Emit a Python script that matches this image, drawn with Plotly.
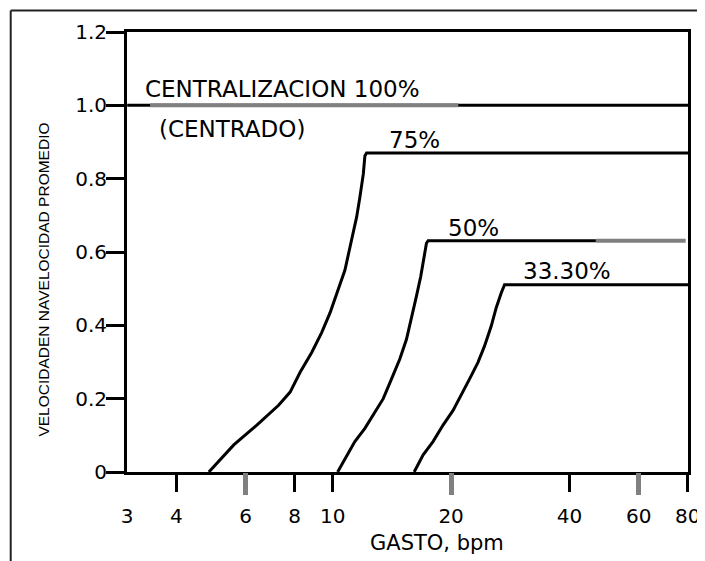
import math
import plotly.graph_objects as go

# ---------------- data ----------------
# CENTRALIZACION 100% (centrado)
x_100 = [3.0, 82.0]
y_100 = [1.0, 1.0]
x_100_gray = [3.43, 20.86]

# 75 %
x_75 = [4.84, 5.60, 6.41, 7.28, 7.79, 8.26, 8.84, 9.37, 9.84, 10.33, 10.74,
        11.16, 11.50, 11.72, 11.96, 12.07, 12.19, 82.0]
y_75 = [0.0, 0.074, 0.128, 0.182, 0.218, 0.272, 0.326, 0.380, 0.434, 0.497,
        0.551, 0.632, 0.695, 0.749, 0.813, 0.862, 0.870, 0.870]

# 50 %
x_50 = [10.29, 10.84, 11.38, 12.07, 12.79, 13.44, 14.11, 14.81, 15.40, 15.85,
        16.32, 16.74, 17.08, 17.31, 17.48, 46.7]
y_50 = [0.0, 0.042, 0.083, 0.119, 0.164, 0.200, 0.254, 0.308, 0.362, 0.416,
        0.479, 0.533, 0.587, 0.624, 0.631, 0.631]
x_50_gray = [46.7, 79.0]

# 33.30 %
x_33 = [16.11, 16.98, 17.99, 19.08, 20.23, 21.23, 22.29, 23.41, 24.33, 25.30,
        26.05, 26.82, 27.35, 27.62, 82.0]
y_33 = [0.0, 0.047, 0.083, 0.128, 0.168, 0.209, 0.254, 0.299, 0.344, 0.398,
        0.448, 0.488, 0.511, 0.511, 0.511]

x_ticks = [3, 4, 6, 8, 10, 20, 40, 60, 80]
x_ticks_black = [4, 8, 10, 40, 80]
x_ticks_gray = [6, 20, 60]
y_ticks = [0, 0.2, 0.4, 0.6, 0.8, 1.0, 1.2]
y_ticktext = ["0", "0.2", "0.4", "0.6", "0.8", "1.0", "1.2"]

# ---------------- layout geometry ----------------
# the page body adds an 8 px offset to the figure
W, H = 697, 553
L, R, T, B = 118.5, 16.5, 23.5, 88.5
PW, PH = W - L - R, H - T - B
OFF = 8


def px(xp):  # page x pixel -> paper x
    return (xp - OFF - L) / PW


def py(yp):  # page y pixel -> paper y
    return (H - B - (yp - OFF)) / PH


BLACK = "#000000"
GRAY = "#808080"
FONT = "DejaVu Sans, Liberation Sans, Arial, sans-serif"

fig = go.Figure()

fig.add_trace(go.Scatter(x=x_100, y=y_100, mode="lines",
                         line=dict(color=BLACK, width=3), hoverinfo="skip"))
fig.add_trace(go.Scatter(x=x_100_gray, y=[y_100[0]] * 2, mode="lines",
                         line=dict(color=GRAY, width=4), hoverinfo="skip"))
fig.add_trace(go.Scatter(x=x_75, y=y_75, mode="lines",
                         line=dict(color=BLACK, width=3), hoverinfo="skip"))
fig.add_trace(go.Scatter(x=x_50, y=y_50, mode="lines", xaxis="x3",
                         line=dict(color=BLACK, width=3), hoverinfo="skip"))
fig.add_trace(go.Scatter(x=x_50_gray, y=[y_50[-1]] * 2, mode="lines", xaxis="x3",
                         line=dict(color=GRAY, width=4), hoverinfo="skip"))
fig.add_trace(go.Scatter(x=x_33, y=y_33, mode="lines", xaxis="x2",
                         line=dict(color=BLACK, width=3), hoverinfo="skip"))

xr = [math.log10(3) - 0.0005, math.log10(80) + 0.0005]

fig.update_layout(
    width=W, height=H,
    margin=dict(l=L, r=R, t=T, b=B, pad=0, autoexpand=False),
    paper_bgcolor="white", plot_bgcolor="white",
    showlegend=False,
    font=dict(family=FONT, color=BLACK),
    xaxis=dict(type="log", range=xr, tickmode="array", tickvals=x_ticks,
               ticktext=[str(v) for v in x_ticks], automargin=False,
               ticks="outside", ticklen=24, tickcolor="rgba(0,0,0,0)",
               ticklabeloverflow="allow",
               tickfont=dict(family=FONT, size=20, color=BLACK),
               showline=True, linecolor=BLACK, linewidth=3, mirror=True,
               showgrid=False, zeroline=False),
    xaxis2=dict(type="log", range=xr, overlaying="x", anchor="y", side="bottom",
                tickmode="array", tickvals=x_ticks_black, ticks="outside",
                ticklen=19, tickwidth=3, tickcolor=BLACK, showticklabels=False,
                automargin=False,
                showline=False, showgrid=False, zeroline=False),
    xaxis3=dict(type="log", range=xr, overlaying="x", anchor="y", side="bottom",
                tickmode="array", tickvals=x_ticks_gray, ticks="outside",
                ticklen=22, tickwidth=5, tickcolor=GRAY, showticklabels=False,
                automargin=False,
                showline=False, showgrid=False, zeroline=False),
    yaxis=dict(range=[0, 1.2], tickmode="array", tickvals=y_ticks,
               ticktext=y_ticktext, ticks="outside", ticklen=18, tickwidth=3,
               tickcolor=BLACK, ticklabelstandoff=-5, automargin=False,
               tickfont=dict(family=FONT, size=20, color=BLACK),
               showline=True, linecolor=BLACK, linewidth=3, mirror=True,
               showgrid=False, zeroline=False),
)

ann_font = dict(family=FONT, size=23, color=BLACK)
fig.add_annotation(x=math.log10(3.30), y=1.045, xref="x", yref="y",
                   text="CENTRALIZACION 100%", showarrow=False,
                   xanchor="left", yanchor="middle", font=ann_font)
fig.add_annotation(x=math.log10(3.58), y=0.936, xref="x", yref="y",
                   text="(CENTRADO)", showarrow=False,
                   xanchor="left", yanchor="middle", font=ann_font)
fig.add_annotation(x=math.log10(13.7), y=0.905, xref="x", yref="y",
                   text="75%", showarrow=False,
                   xanchor="left", yanchor="middle", font=ann_font)
fig.add_annotation(x=math.log10(19.4), y=0.666, xref="x", yref="y",
                   text="50%", showarrow=False,
                   xanchor="left", yanchor="middle", font=ann_font)
fig.add_annotation(x=math.log10(30.2), y=0.547, xref="x", yref="y",
                   text="33.30%", showarrow=False,
                   xanchor="left", yanchor="middle", font=ann_font)
# axis titles
fig.add_annotation(x=px(437), y=py(544), xref="paper", yref="paper",
                   text="GASTO, bpm", showarrow=False,
                   xanchor="center", yanchor="middle",
                   font=dict(family=FONT, size=21, color=BLACK))
fig.add_annotation(x=px(43), y=py(280), xref="paper", yref="paper",
                   text="VELOCIDADEN NAVELOCIDAD PROMEDIO", showarrow=False,
                   textangle=-90, xanchor="center", yanchor="middle",
                   font=dict(family="Liberation Sans, Arial", size=15.5,
                             color=BLACK))

# outer frame of the original figure
fig.add_shape(type="line", xref="paper", yref="paper",
              x0=px(10), x1=px(720), y0=py(10), y1=py(10),
              line=dict(color="#222222", width=2))
fig.add_shape(type="line", xref="paper", yref="paper",
              x0=px(10), x1=px(10), y0=py(10), y1=py(570),
              line=dict(color="#222222", width=2))

fig.write_html("out.html")
